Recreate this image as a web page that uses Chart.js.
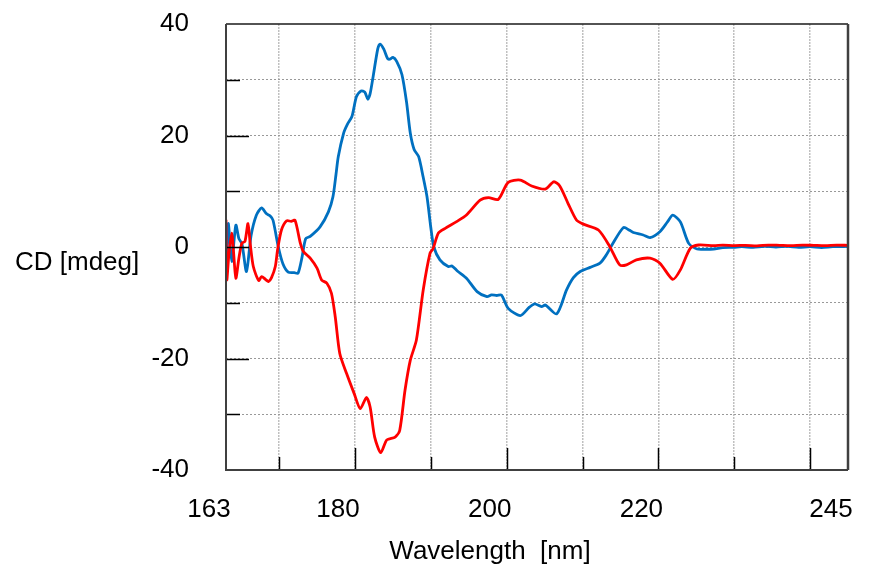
<!DOCTYPE html>
<html>
<head>
<meta charset="utf-8">
<script src="https://cdn.jsdelivr.net/npm/chart.js@4"></script>
<style>
  html, body { margin: 0; padding: 0; background: #fff; }
  #wrap { width: 869px; height: 579px; }
</style>
</head>
<body>
<div id="wrap"><canvas id="cdChart" width="869" height="579"></canvas></div>
<script>
// values
const blueNm = [163.0, 163.3, 163.75, 164.3, 164.7, 165.1, 165.7, 166.3, 167.0, 167.7, 168.3, 168.8, 169.2, 169.9,
  170.5, 171.2, 172.0, 172.5, 173.0, 173.5, 174.1, 175.4, 176.5, 177.1, 177.5, 177.8, 178.5, 179.0, 179.6,
  180.2, 180.8, 181.3, 181.7, 182.0, 182.4, 183.0, 183.3, 183.8, 184.3, 184.6, 185.0, 185.5, 186.2, 186.8,
  187.3, 187.8, 188.4, 189.0, 189.5, 190.0, 190.4, 191.2, 192.3, 192.8, 193.5, 194.7, 196.1, 197.4, 198.0,
  198.7, 199.3, 200.2, 201.8, 203.0, 203.7, 204.6, 205.1, 206.6, 207.9, 208.8, 209.7, 211.0, 212.3, 213.1,
  213.9, 215.4, 216.2, 216.7, 218.0, 218.9, 220.2, 221.2, 221.9, 222.9, 224.0, 225.1, 226.2, 227.3, 228.5,
  229.9, 231.0, 232.5, 234.0, 235.5, 237.0, 238.5, 240.0, 241.5, 243.0, 245.0];
const blueCd = [-5.0, 4.2, -2.6, 3.9, 1.5, 0.6, -4.4, 2.0, 5.7, 7.0, 6.0, 5.6, 4.8, 0.0,
  -3.0, -4.5, -4.6, -4.7, -2.0, 1.5, 1.9, 3.6, 6.3, 9.0, 13.0, 16.2, 20.4, 22.0, 23.4,
  27.0, 28.0, 27.8, 26.5, 27.5, 30.6, 35.5, 36.4, 35.5, 33.8, 33.7, 34.0, 33.3, 30.9, 26.0,
  20.4, 17.5, 16.2, 12.5, 9.0, 3.5, 0.0, -2.3, -3.5, -3.4, -4.3, -5.6, -8.0, -8.9, -8.6,
  -8.7, -8.6, -11.0, -12.3, -10.8, -10.2, -10.7, -10.4, -12.0, -7.7, -5.5, -4.4, -3.65, -2.9, -1.5,
  0.4, 3.5, 3.0, 2.6, 2.15, 1.7, 2.75, 4.5, 5.7, 4.5, 0.65, -0.36, -0.4, -0.36, -0.1,
  -0.06, 0.05, -0.05, 0.1, 0.0, 0.1, -0.05, 0.05, -0.1, 0.05, 0.1];

const redNm = [163.0, 163.1, 163.4, 163.75, 164.0, 164.3, 164.7, 165.1, 165.5, 165.9, 166.2, 166.6, 167.3, 167.7,
  168.2, 168.6, 169.0, 169.5, 169.8, 170.3, 171.0, 171.6, 172.1, 172.8, 173.2, 174.1, 175.0, 175.6, 176.3,
  176.9, 177.4, 178.0, 178.9, 179.9, 180.7, 181.5, 182.0, 182.6, 183.4, 184.2, 185.3, 185.9, 186.6, 187.3,
  188.1, 189.0, 189.9, 190.3, 191.0, 191.9, 193.4, 194.7, 196.5, 197.6, 198.9, 200.2, 201.8, 203.3, 205.1,
  206.2, 207.0, 208.1, 209.2, 210.1, 212.1, 213.6, 214.9, 215.8, 217.1, 218.9, 220.2, 221.9, 222.9, 224.2,
  225.3, 227.3, 228.5, 230.0, 231.5, 233.0, 234.5, 236.0, 237.5, 239.0, 240.5, 242.0, 243.5, 245.0];
const redCd = [4.9, -5.9, -1.0, 2.5, -1.0, -5.6, -2.0, 0.7, 1.0, 4.2, 0.5, -3.5, -6.0, -5.3,
  -5.8, -6.2, -5.5, -3.5, -0.5, 3.0, 4.7, 4.6, 4.8, 0.7, -0.8, -2.0, -3.8, -5.9, -6.5,
  -8.3, -12.5, -19.1, -22.7, -26.3, -29.0, -27.0, -28.7, -34.1, -36.9, -34.6, -34.1, -32.9, -25.7, -20.3,
  -16.7, -7.7, -1.1, -0.3, 2.5, 3.35, 4.55, 5.75, 8.4, 8.85, 8.55, 11.6, 12.0, 10.95, 10.4,
  11.7, 10.95, 7.8, 4.85, 4.1, 3.05, 0.06, -3.2, -3.2, -2.3, -2.0, -2.9, -5.8, -4.1, -0.24,
  0.36, 0.24, 0.35, 0.25, 0.3, 0.2, 0.35, 0.3, 0.25, 0.35, 0.3, 0.25, 0.35, 0.3];

const xTickValues = [163, 170, 180, 190, 200, 210, 220, 230, 240, 245];
const xLabelValues = [163, 180, 200, 220, 245];
const yLabelValues = [40, 20, 0, -20, -40];

const FONT = "Arial, 'Liberation Sans', sans-serif";

function toPoints(xs, ys) {
  return xs.map((x, i) => ({ x: x, y: ys[i] }));
}

// frame, inward tick marks and the two axis titles
const framePlugin = {
  id: 'frame',
  afterDraw(chart) {
    const ctx = chart.ctx;
    const a = chart.chartArea;
    const xs = chart.scales.x, ys = chart.scales.y;
    ctx.save();
    ctx.strokeStyle = '#000';
    ctx.lineWidth = 1.5;
    xTickValues.forEach(v => {
      if (v === 163 || v === 245) return;
      const px = Math.round(xs.getPixelForValue(v)) + 0.5;
      const len = (v % 20 === 0 || v === 240) ? 22 : 13;
      ctx.beginPath();
      ctx.moveTo(px, a.bottom);
      ctx.lineTo(px, a.bottom - len);
      ctx.stroke();
    });
    for (let v = -30; v <= 30; v += 10) {
      const py = Math.round(ys.getPixelForValue(v)) + 0.5;
      const len = (v % 20 === 0) ? 23 : 14;
      ctx.beginPath();
      ctx.moveTo(a.left, py);
      ctx.lineTo(a.left + len, py);
      ctx.stroke();
    }
    // box
    ctx.strokeStyle = '#1a1a1a';
    ctx.lineWidth = 1.5;
    ctx.beginPath();
    ctx.moveTo(a.left, a.top);
    ctx.lineTo(a.right, a.top);
    ctx.stroke();
    ctx.strokeStyle = '#404040';
    ctx.lineWidth = 2;
    ctx.beginPath();
    ctx.moveTo(a.left, a.top);
    ctx.lineTo(a.left, a.bottom);
    ctx.lineTo(a.right, a.bottom);
    ctx.stroke();
    ctx.lineWidth = 2.5;
    ctx.beginPath();
    ctx.moveTo(a.right, a.top);
    ctx.lineTo(a.right, a.bottom);
    ctx.stroke();
    // titles
    ctx.fillStyle = '#000';
    ctx.font = '26px ' + FONT;
    ctx.textBaseline = 'alphabetic';
    ctx.textAlign = 'left';
    ctx.fillText('CD [mdeg]', 15, 270);
    ctx.textAlign = 'center';
    ctx.fillText('Wavelength  [nm]', a.left + 264, 559);
    ctx.restore();
  }
};

new Chart(document.getElementById('cdChart'), {
  type: 'line',
  data: {
    datasets: [
      {
        label: 'red',
        data: toPoints(redNm, redCd),
        borderColor: '#FF0000',
        borderWidth: 2.8,
        pointRadius: 0,
        tension: 0.25,
        fill: false
      },
      {
        label: 'blue',
        data: toPoints(blueNm, blueCd),
        borderColor: '#0070C0',
        borderWidth: 2.8,
        pointRadius: 0,
        tension: 0.25,
        fill: false
      }
    ]
  },
  options: {
    responsive: false,
    animation: false,
    layout: { padding: { left: 0, right: 21, top: 24, bottom: 0 } },
    plugins: {
      legend: { display: false },
      tooltip: { enabled: false }
    },
    scales: {
      x: {
        type: 'linear',
        min: 163,
        max: 245,
        afterBuildTicks: scale => {
          scale.ticks = xTickValues.map(v => ({ value: v }));
        },
        afterFit: scale => {
          scale.height = 109;
          scale.paddingLeft = 0;
          scale.paddingRight = 0;
        },
        border: { display: false, dash: [2, 1] },
        grid: {
          drawTicks: false,
          color: c => (c.tick && (c.tick.value === 163 || c.tick.value === 245)) ? 'rgba(0,0,0,0)' : '#c0c0c0',
          lineWidth: 1.5
        },
        ticks: {
          autoSkip: false,
          maxRotation: 0,
          padding: 24,
          labelOffset: -17,
          color: '#000',
          font: { family: FONT, size: 26 },
          callback: v => xLabelValues.includes(v) ? String(v) : ''
        }
      },
      y: {
        min: -40,
        max: 40,
        afterFit: scale => {
          scale.width = 226;
          scale.paddingTop = 0;
          scale.paddingBottom = 0;
        },
        border: { display: false, dash: [2, 2] },
        grid: {
          drawTicks: false,
          color: c => (c.tick && Math.abs(c.tick.value) === 40) ? 'rgba(0,0,0,0)' : '#999999',
          lineWidth: 1
        },
        ticks: {
          stepSize: 10,
          padding: 37,
          color: '#000',
          font: { family: FONT, size: 26 },
          callback: v => yLabelValues.includes(v) ? String(v) : ''
        }
      }
    }
  },
  plugins: [framePlugin]
});
</script>
</body>
</html>
